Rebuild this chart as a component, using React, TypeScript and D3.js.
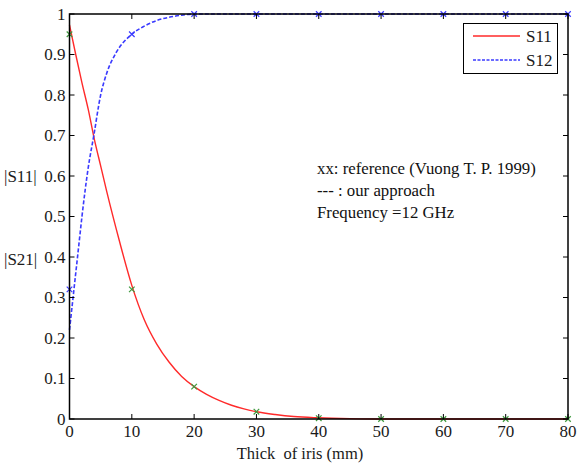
import * as d3 from 'd3';
import React, { useEffect, useRef } from 'react';

// curves (thickness in mm)
const s11Thick = [0, 1, 2, 3, 4, 5, 6, 8, 10, 12, 14, 16, 18, 20, 22, 24, 26, 28, 30, 33, 36, 40, 45, 50, 60, 70, 80];
const s11Vals = [0.973, 0.9, 0.83, 0.765, 0.69, 0.625, 0.56, 0.44, 0.33, 0.245, 0.185, 0.14, 0.105, 0.08, 0.061, 0.046, 0.034, 0.025, 0.018, 0.011, 0.006, 0.003, 0.001, 0, 0, 0, 0];

const s12Thick = [0, 0.5, 1, 1.5, 2, 3, 3.9, 5, 6, 7.5, 10, 12, 14, 16, 18, 20, 30, 40, 50, 60, 70, 80];
const s12Vals = [0.22, 0.29, 0.36, 0.43, 0.5, 0.62, 0.7, 0.8, 0.855, 0.905, 0.95, 0.97, 0.984, 0.992, 0.997, 1, 1, 1, 1, 1, 1, 1];

// reference points (Vuong T. P. 1999)
const refThick = [0, 10, 20, 30, 40, 50, 60, 70, 80];
const refS11 = [0.95, 0.32, 0.08, 0.018, 0.002, 0, 0, 0, 0];
const refS12 = [0.32, 0.95, 1, 1, 1, 1, 1, 1, 1];

const xTicks = [0, 10, 20, 30, 40, 50, 60, 70, 80];
const yTicks = [0, 0.1, 0.2, 0.3, 0.4, 0.5, 0.6, 0.7, 0.8, 0.9, 1];

const legendNames = ['S11', 'S12'];
const noteLines = ['xx: reference (Vuong T. P. 1999)', '--- : our approach', 'Frequency =12 GHz'];

export default function App() {
  const svgRef = useRef(null);
  const width = 577;
  const height = 463;

  useEffect(() => {
    const svg = d3.select(svgRef.current);
    svg.selectAll('*').remove();

    const left = 69.5, right = 568, top = 14, bottom = 419;
    const font = "'Liberation Serif', 'DejaVu Serif', serif";

    const x = d3.scaleLinear().domain([0, 80]).range([left, right]);
    const y = d3.scaleLinear().domain([0, 1]).range([bottom, top]);

    const line = d3
      .line<[number, number]>()
      .x((d) => x(d[0]))
      .y((d) => y(d[1]))
      .curve(d3.curveMonotoneX);

    const s11 = s11Thick.map((t, i) => [t, s11Vals[i]] as [number, number]);
    const s12 = s12Thick.map((t, i) => [t, s12Vals[i]] as [number, number]);

    svg.append('path')
      .attr('d', line(s11))
      .attr('fill', 'none')
      .attr('stroke', '#ff2a2a')
      .attr('stroke-width', 1.4);

    svg.append('path')
      .attr('d', line(s12))
      .attr('fill', 'none')
      .attr('stroke', '#3a3aff')
      .attr('stroke-width', 1.6)
      .attr('stroke-dasharray', '4,2');

    // x markers
    const cross = d3.symbol().type(d3.symbolX).size(22);
    svg.selectAll('.m11')
      .data(refThick)
      .enter()
      .append('path')
      .attr('d', cross)
      .attr('transform', (d, i) => `translate(${x(d)},${y(refS11[i])})`)
      .attr('fill', 'none')
      .attr('stroke', '#3f9a3f')
      .attr('stroke-width', 1.2);

    svg.selectAll('.m12')
      .data(refThick)
      .enter()
      .append('path')
      .attr('d', cross)
      .attr('transform', (d, i) => `translate(${x(d)},${y(refS12[i])})`)
      .attr('fill', 'none')
      .attr('stroke', '#3a3aff')
      .attr('stroke-width', 1.2);

    // frame with inward ticks on all sides
    svg.append('rect')
      .attr('x', left)
      .attr('y', top)
      .attr('width', right - left)
      .attr('height', bottom - top)
      .attr('fill', 'none')
      .attr('stroke', '#000')
      .attr('stroke-width', 1.5);

    const axes = svg.append('g').style('font-family', font).style('font-size', '17px').attr('fill', '#1a1a1a');

    const tl = 5;
    xTicks.forEach((t) => {
      axes.append('line').attr('x1', x(t)).attr('x2', x(t)).attr('y1', bottom).attr('y2', bottom - tl).attr('stroke', '#000');
      axes.append('line').attr('x1', x(t)).attr('x2', x(t)).attr('y1', top).attr('y2', top + tl).attr('stroke', '#000');
      axes.append('text')
        .attr('x', x(t))
        .attr('y', bottom + 18)
        .attr('text-anchor', 'middle')
        .text(t);
    });

    yTicks.forEach((t) => {
      axes.append('line').attr('x1', left).attr('x2', left + tl).attr('y1', y(t)).attr('y2', y(t)).attr('stroke', '#000');
      axes.append('line').attr('x1', right).attr('x2', right - tl).attr('y1', y(t)).attr('y2', y(t)).attr('stroke', '#000');
      axes.append('text')
        .attr('x', left - 4)
        .attr('y', y(t))
        .attr('dy', '0.35em')
        .attr('text-anchor', 'end')
        .text(d3.format('~g')(t));
    });

    axes.append('text')
      .attr('x', 300)
      .attr('y', 459)
      .attr('text-anchor', 'middle')
      .style('font-size', '16.5px')
      .style('white-space', 'pre')
      .text('Thick  of iris (mm)');

    axes.append('text').attr('x', 4).attr('y', y(0.6)).attr('dy', '0.35em').text('|S11|');
    axes.append('text').attr('x', 4).attr('y', y(0.395)).attr('dy', '0.35em').text('|S21|');

    // note
    const note = svg.append('g').style('font-family', font).style('font-size', '16.8px').attr('fill', '#111');
    noteLines.forEach((s, i) => {
      note.append('text')
        .attr('x', 317)
        .attr('y', 174 + i * 22)
        .text(s);
    });

    // legend
    const lg = svg.append('g').style('font-family', font).style('font-size', '17px').attr('fill', '#1a1a1a');
    lg.append('rect')
      .attr('x', 463.5)
      .attr('y', 23.5)
      .attr('width', 94)
      .attr('height', 50)
      .attr('fill', '#fff')
      .attr('stroke', '#000')
      .attr('stroke-width', 1);
    const lgColors = ['#ff2a2a', '#3a3aff'];
    legendNames.forEach((n, i) => {
      const ly = 36 + i * 24;
      lg.append('line')
        .attr('x1', 473)
        .attr('x2', 520)
        .attr('y1', ly)
        .attr('y2', ly)
        .attr('stroke', lgColors[i])
        .attr('stroke-width', 1.3)
        .attr('stroke-dasharray', i === 1 ? '3,1.5' : null);
      lg.append('text')
        .attr('x', 526)
        .attr('y', ly)
        .attr('dy', '0.35em')
        .text(n);
    });
  }, []);

  return (
    <svg
      ref={svgRef}
      width={width}
      height={height}
      style={{ position: 'absolute', left: 0, top: 0, background: '#fff' }}
    ></svg>
  );
}
